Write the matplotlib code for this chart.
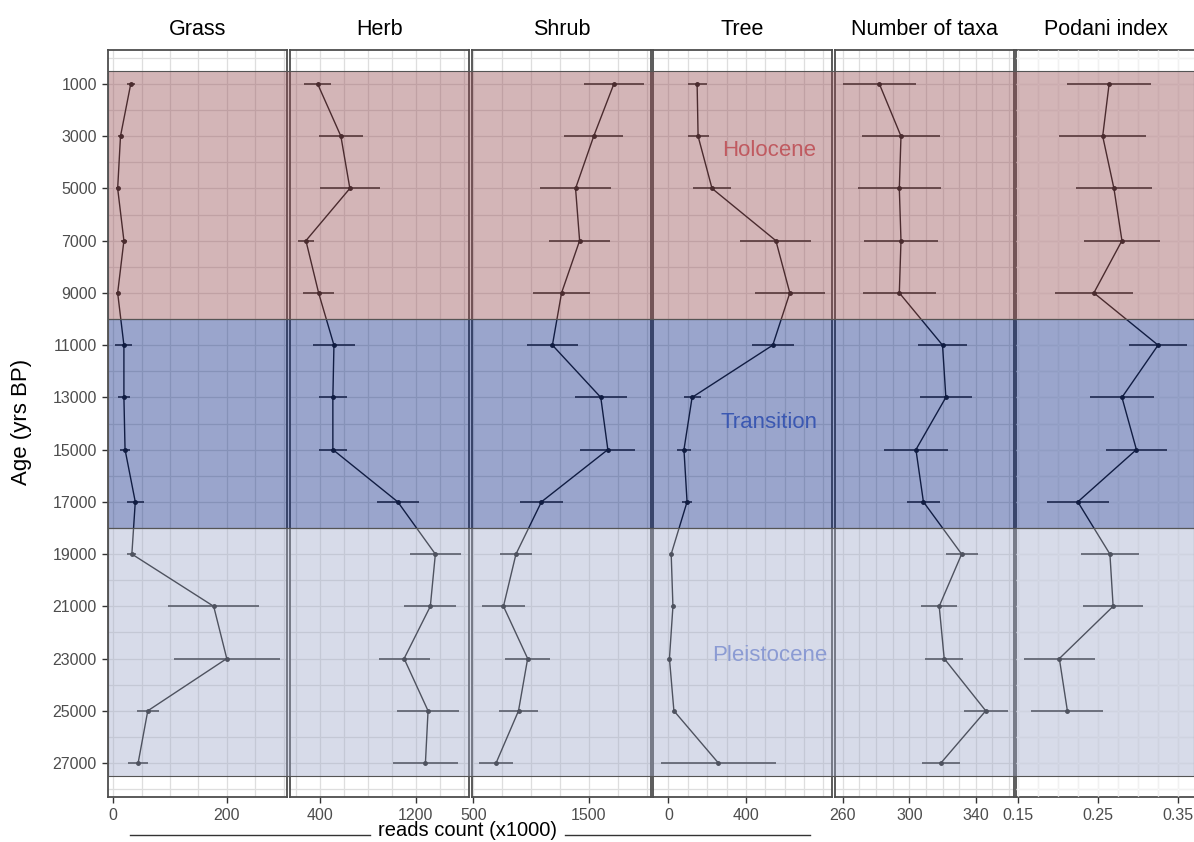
import numpy as np
import matplotlib.pyplot as plt
from matplotlib.lines import Line2D

plt.rcParams['font.family'] = ['Liberation Sans', 'DejaVu Sans']

# sample ages (yrs BP)
age = [1000, 3000, 5000, 7000, 9000, 11000, 13000, 15000, 17000, 19000, 21000, 23000, 25000, 27000]

# reads count (x1000), mean and error half-width
grass = [31, 13, 8, 19, 8, 19, 19, 21, 39, 33, 177, 200, 61, 44]
grass_err = [7, 5, 3, 5, 3, 15, 10, 9, 15, 8, 80, 93, 19, 17]
herb = [381, 575, 650, 283, 389, 517, 508, 508, 1050, 1364, 1322, 1103, 1303, 1281]
herb_err = [112, 181, 252, 70, 128, 175, 117, 117, 175, 215, 217, 213, 257, 273]
shrub = [1715, 1541, 1384, 1419, 1263, 1184, 1602, 1663, 1089, 869, 761, 970, 891, 697]
shrub_err = [261, 256, 305, 261, 244, 222, 226, 239, 187, 141, 189, 193, 167, 145]
tree = [148, 153, 225, 555, 627, 539, 122, 80, 96, 14, 23, 5, 28, 258]
tree_err = [49, 54, 98, 183, 181, 108, 44, 36, 26, 5, 5, 5, 5, 297]

# diversity
taxa = [282, 295, 294, 295, 294, 320, 322, 304, 308.5, 331.5, 318, 321, 346, 319]
taxa_err = [22, 23.5, 25, 22, 22, 15, 15.5, 19.5, 10, 9.6, 10.9, 11.4, 13.1, 11.6]
podani = [0.264, 0.256, 0.270, 0.280, 0.245, 0.325, 0.280, 0.298, 0.225, 0.265, 0.269, 0.202, 0.212, np.nan]
podani_err = [0.052, 0.054, 0.047, 0.047, 0.049, 0.036, 0.040, 0.038, 0.039, 0.036, 0.037, 0.044, 0.045, np.nan]

titles = ["Grass", "Herb", "Shrub", "Tree", "Number of taxa", "Podani index"]
values = [grass, herb, shrub, tree, taxa, podani]
errors = [grass_err, herb_err, shrub_err, tree_err, taxa_err, podani_err]
xlims = [(-9, 306), (150, 1645), (489, 2036), (-80, 845), (255.3, 363), (0.148, 0.371)]
grid_steps = [50, 200, 250, 100, 10, 0.025]
tick_labels = [[0, 200], [400, 1200], [500, 1500], [0, 400], [260, 300, 340], [0.15, 0.25, 0.35]]

periods = ["Holocene", "Transition", "Pleistocene"]
period_start = [500, 10000, 18000]
period_end = [10000, 18000, 27500]
period_fill = [(0.576, 0.275, 0.302, 0.4), (0.012, 0.125, 0.50, 0.4), (0.616, 0.655, 0.784, 0.4)]
period_text = ['#c05a60', '#3b58b2', '#8b9bd3']
period_label_y = [3560, 13960, 22870]

W, H = 1194, 842
bottom, height = 45 / H, 747 / H
lefts = [108, 290, 472, 653, 835, 1016]
pw = 179
ylim = (28300, -300)

fig = plt.figure(figsize=(W / 100, H / 100), dpi=100)


def draw_series(ax, x, xerr):
    ax.errorbar(x, age, xerr=xerr, fmt='none', ecolor='#2e2e2e',
                elinewidth=1.2, capsize=0, zorder=2)
    ax.plot(x, age, color='#1a1a1a', lw=1.0, marker='o', ms=2.5, zorder=3)


axes = []
for i in range(6):
    ax = fig.add_axes([lefts[i] / W, bottom, pw / W, height])
    lo, hi = xlims[i]
    ax.set_xlim(lo, hi)
    ax.set_ylim(*ylim)
    step = grid_steps[i]
    ax.set_xticks(np.arange(np.ceil(lo / step) * step, hi, step), minor=True)
    ax.set_xticks(tick_labels[i])
    ax.set_xticklabels([f"{t:g}" for t in tick_labels[i]])
    ax.set_yticks(np.arange(0, 28001, 1000), minor=True)
    ax.set_yticks(age)
    ax.grid(which='both', color='#dedede', lw=0.9, zorder=0)
    ax.set_axisbelow(True)
    ax.tick_params(which='minor', length=0)
    ax.tick_params(which='major', length=4, width=1, color='#333333',
                   labelsize=11.5, labelcolor='#4d4d4d', pad=4)
    if i == 0:
        ax.set_yticklabels([str(a) for a in age])
    else:
        ax.tick_params(axis='y', which='both', length=0, labelleft=False)
    for s in ax.spines.values():
        s.set_color('#4d4d4d')
        s.set_linewidth(1.3)
    if i < 5:
        draw_series(ax, values[i], errors[i])
    ax.set_title(titles[i], fontsize=15.5, pad=11)
    axes.append(ax)

# Podani panel: lighter grid on top of the grey one, data drawn above it
pg = fig.add_axes(axes[5].get_position(), zorder=4)
pg.set_xlim(*xlims[5])
pg.set_ylim(*ylim)
pg.patch.set_alpha(0)
pg.set_xticks(axes[5].get_xticks(minor=True), minor=True)
pg.set_xticks(axes[5].get_xticks())
pg.set_yticks(np.arange(0, 28001, 1000))
pg.grid(which='both', color='white', alpha=0.6, lw=1.0)
pg.set_axisbelow(True)
pg.tick_params(which='both', length=0, labelbottom=False, labelleft=False)
for s in pg.spines.values():
    s.set_visible(False)
draw_series(pg, values[5], errors[5])

# period bands laid over all panels
ov = fig.add_axes([lefts[0] / W, bottom, (W - lefts[0]) / W, height], zorder=5)
ov.set_xlim(0, 1)
ov.set_ylim(*ylim)
ov.axis('off')
for name, y0, y1, fc, tc, ly in zip(periods, period_start, period_end, period_fill,
                                    period_text, period_label_y):
    ov.axhspan(y0, y1, facecolor=fc, edgecolor='#555555', lw=0.8)
    ov.text(0.609, ly, name, color=tc, fontsize=16, ha='center', va='center')

fig.text(22 / W, 1 - 422 / H, "Age (yrs BP)", rotation=90, fontsize=16,
         ha='center', va='center')
fig.text(467 / W, 1 - 831 / H, "reads count (x1000)", fontsize=14.5,
         ha='center', va='center')
fig.add_artist(Line2D([130 / W, 370 / W], [1 - 835 / H] * 2, color='#333333', lw=1))
fig.add_artist(Line2D([565 / W, 810 / W], [1 - 835 / H] * 2, color='#333333', lw=1))

fig.savefig("out.png", dpi=100)
